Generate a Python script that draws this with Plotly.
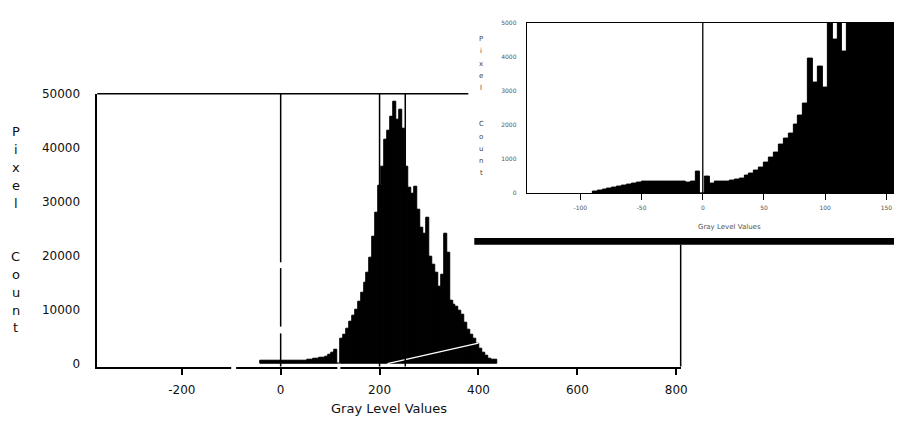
import plotly.graph_objects as go

W, H = 901, 429

# ---------------- data ----------------
# main histogram: bin centres (grey level) and pixel counts, bin width 6
main_levels = list(range(-39, 436, 6))
main_counts = [550, 560, 560, 550, 560, 560, 570, 560, 560, 570,
               560, 580, 580, 590, 600, 620, 700, 760, 900, 950,
               1050, 1150, 1350, 1700, 2100, 2500, 0, 4600, 5400, 6500,
               7700, 8800, 9900, 11400, 13200, 14900, 16900, 19600, 23500, 28000,
               33000, 36500, 41500, 43200, 45800, 48600, 45200, 47000, 43500, 36500,
               32500, 31500, 32700, 28500, 25200, 24000, 27000, 19800, 18400, 16800,
               14300, 16500, 24000, 20500, 11600, 11000, 10600, 9800, 9100, 7600,
               6300, 5300, 4600, 3700, 2700, 2000, 1400, 1000, 800, 700]
main_bin_width = 6

# marker lines drawn on the main histogram
main_marker_levels = [0, 200, 252]
# white straight line across the histogram
trend_x = [216, 400]
trend_y = [0, 3800]

main_xticks = [-200, 0, 200, 400, 600, 800]
main_yticks = [0, 10000, 20000, 30000, 40000, 50000]

# inset (zoomed) histogram, bin width 4
inset_levels = list(range(-88, 157, 4))
inset_counts = [40, 60, 100, 120, 150, 180, 230, 250, 290, 320,
                340, 330, 350, 340, 330, 345, 330, 335, 340, 320,
                340, 620, 0, 470, 270, 340, 345, 350, 380, 410,
                440, 500, 560, 650, 760, 890, 1040, 1200, 1420, 1600,
                1750, 2000, 2280, 2620, 3950, 3250, 3700, 3100, 5500, 4500,
                5600, 4150, 6000, 6000, 6000, 6000, 6000, 6000, 6000, 6000,
                6000, 6000]
inset_bin_width = 4
inset_marker_levels = [0]
inset_xticks = [-100, -50, 0, 50, 100, 150]
inset_yticks = [0, 1000, 2000, 3000, 4000, 5000]


def px(x):
    return x / W


def py(y):
    return 1 - y / H


FONT = "DejaVu Sans, Liberation Sans, Arial, sans-serif"

fig = go.Figure()

fig.add_trace(go.Bar(
    x=main_levels, y=main_counts, width=main_bin_width,
    marker=dict(color="black", line=dict(color="black", width=1)),
    xaxis="x", yaxis="y", showlegend=False, hoverinfo="skip"))

fig.add_trace(go.Scatter(
    x=trend_x, y=trend_y, mode="lines",
    line=dict(color="white", width=1.5),
    xaxis="x", yaxis="y", showlegend=False, hoverinfo="skip"))

fig.add_trace(go.Bar(
    x=inset_levels, y=inset_counts, width=inset_bin_width,
    marker=dict(color="black", line=dict(color="black", width=1)),
    xaxis="x2", yaxis="y2", showlegend=False, hoverinfo="skip"))

shapes = []
# main vertical marker lines
for v in main_marker_levels:
    shapes.append(dict(type="line", xref="x", yref="y domain", x0=v, x1=v, y0=0, y1=1,
                       line=dict(color="black", width=1.5), layer="above"))
for v in inset_marker_levels:
    shapes.append(dict(type="line", xref="x2", yref="y2 domain", x0=v, x1=v, y0=0, y1=1,
                       line=dict(color="black", width=1.3), layer="above"))

# visible parts of main frame (top and right), rest hidden behind the inset
shapes.append(dict(type="line", xref="paper", yref="paper",
                   x0=px(98), x1=px(472), y0=py(89), y1=py(89),
                   line=dict(color="black", width=1.5)))
shapes.append(dict(type="line", xref="paper", yref="paper",
                   x0=px(686), x1=px(686), y0=py(244), y1=py(369),
                   line=dict(color="black", width=1.5)))
# thick bar under the inset
shapes.append(dict(type="rect", xref="paper", yref="paper",
                   x0=px(478), x1=px(901), y0=py(244), y1=py(237),
                   fillcolor="black", line=dict(width=0)))
# white breaks in the lines
for (x0, x1, y0, y1) in [(233, 238, 366, 372), (340, 343, 366, 372),
                         (280, 285, 262, 268), (280, 285, 328, 335)]:
    shapes.append(dict(type="rect", xref="paper", yref="paper",
                       x0=px(x0), x1=px(x1), y0=py(y1), y1=py(y0),
                       fillcolor="white", line=dict(width=0), layer="above"))

annotations = []
# main y title, stacked letters
rows = {0: "P", 1: "i", 2: "x", 3: "e", 4: "l", 7: "C", 8: "o", 9: "u", 10: "n", 11: "t"}
for k, ch in rows.items():
    annotations.append(dict(text=ch, xref="paper", yref="paper", x=px(16), y=py(128 + k * 18.3),
                            showarrow=False, xanchor="center", yanchor="middle",
                            font=dict(family=FONT, size=13, color="#111")))
annotations.append(dict(text="Gray Level Values", xref="paper", yref="paper",
                        x=px(392), y=py(412), showarrow=False, xanchor="center", yanchor="middle",
                        font=dict(family=FONT, size=13, color="#111")))
# inset titles
for k, ch in rows.items():
    annotations.append(dict(text=ch, xref="paper", yref="paper", x=px(485), y=py(33 + k * 12.5),
                            showarrow=False, xanchor="center", yanchor="middle",
                            font=dict(family=FONT, size=7, color="#444")))
annotations.append(dict(text="Gray Level Values", xref="paper", yref="paper",
                        x=px(735), y=py(226), showarrow=False, xanchor="center", yanchor="middle",
                        font=dict(family=FONT, size=7, color="#555")))

fig.update_layout(
    width=W, height=H,
    margin=dict(l=0, r=0, t=0, b=0),
    paper_bgcolor="white", plot_bgcolor="white",
    showlegend=False, bargap=0,
    font=dict(family=FONT, color="#111"),
    xaxis=dict(domain=[px(98), px(686)], range=[-371, 809], anchor="y",
               showgrid=False, zeroline=False, showline=True, linecolor="black", linewidth=1.5,
               ticks="outside", ticklen=7, tickwidth=1.5, tickcolor="black",
               tickvals=main_xticks, ticktext=[str(t) for t in main_xticks],
               tickfont=dict(family=FONT, size=12, color="#111"), ticklabelstandoff=4),
    yaxis=dict(domain=[py(369), py(89)], range=[-541, 50000], anchor="x",
               showgrid=False, zeroline=False, showline=True, linecolor="black", linewidth=1.5,
               ticks="", tickvals=main_yticks, ticktext=[str(t) for t in main_yticks],
               tickfont=dict(family=FONT, size=12, color="#111"), ticklabelstandoff=13),
    xaxis2=dict(domain=[px(531), 1.0], range=[-143.7, 156.2], anchor="y2",
                showgrid=False, zeroline=False, showline=True, mirror=True,
                linecolor="black", linewidth=1.3,
                ticks="outside", ticklen=6, tickwidth=1, tickcolor="black",
                tickvals=inset_xticks, ticktext=[str(t) for t in inset_xticks],
                tickfont=dict(family=FONT, size=6, color="#555"), ticklabelstandoff=3),
    yaxis2=dict(domain=[py(191), py(16)], range=[0, 5000], anchor="x2",
                showgrid=False, zeroline=False, showline=True, mirror=False,
                linecolor="black", linewidth=1.3,
                ticks="", tickvals=inset_yticks, ticktext=[str(t) for t in inset_yticks],
                tickfont=dict(family=FONT, size=6, color="#555"), ticklabelstandoff=8),
    shapes=shapes, annotations=annotations,
)

fig.write_html(
    "out.html",
    config={"displayModeBar": False},
    post_script="document.body.style.margin='0';document.body.style.overflow='hidden';",
)
